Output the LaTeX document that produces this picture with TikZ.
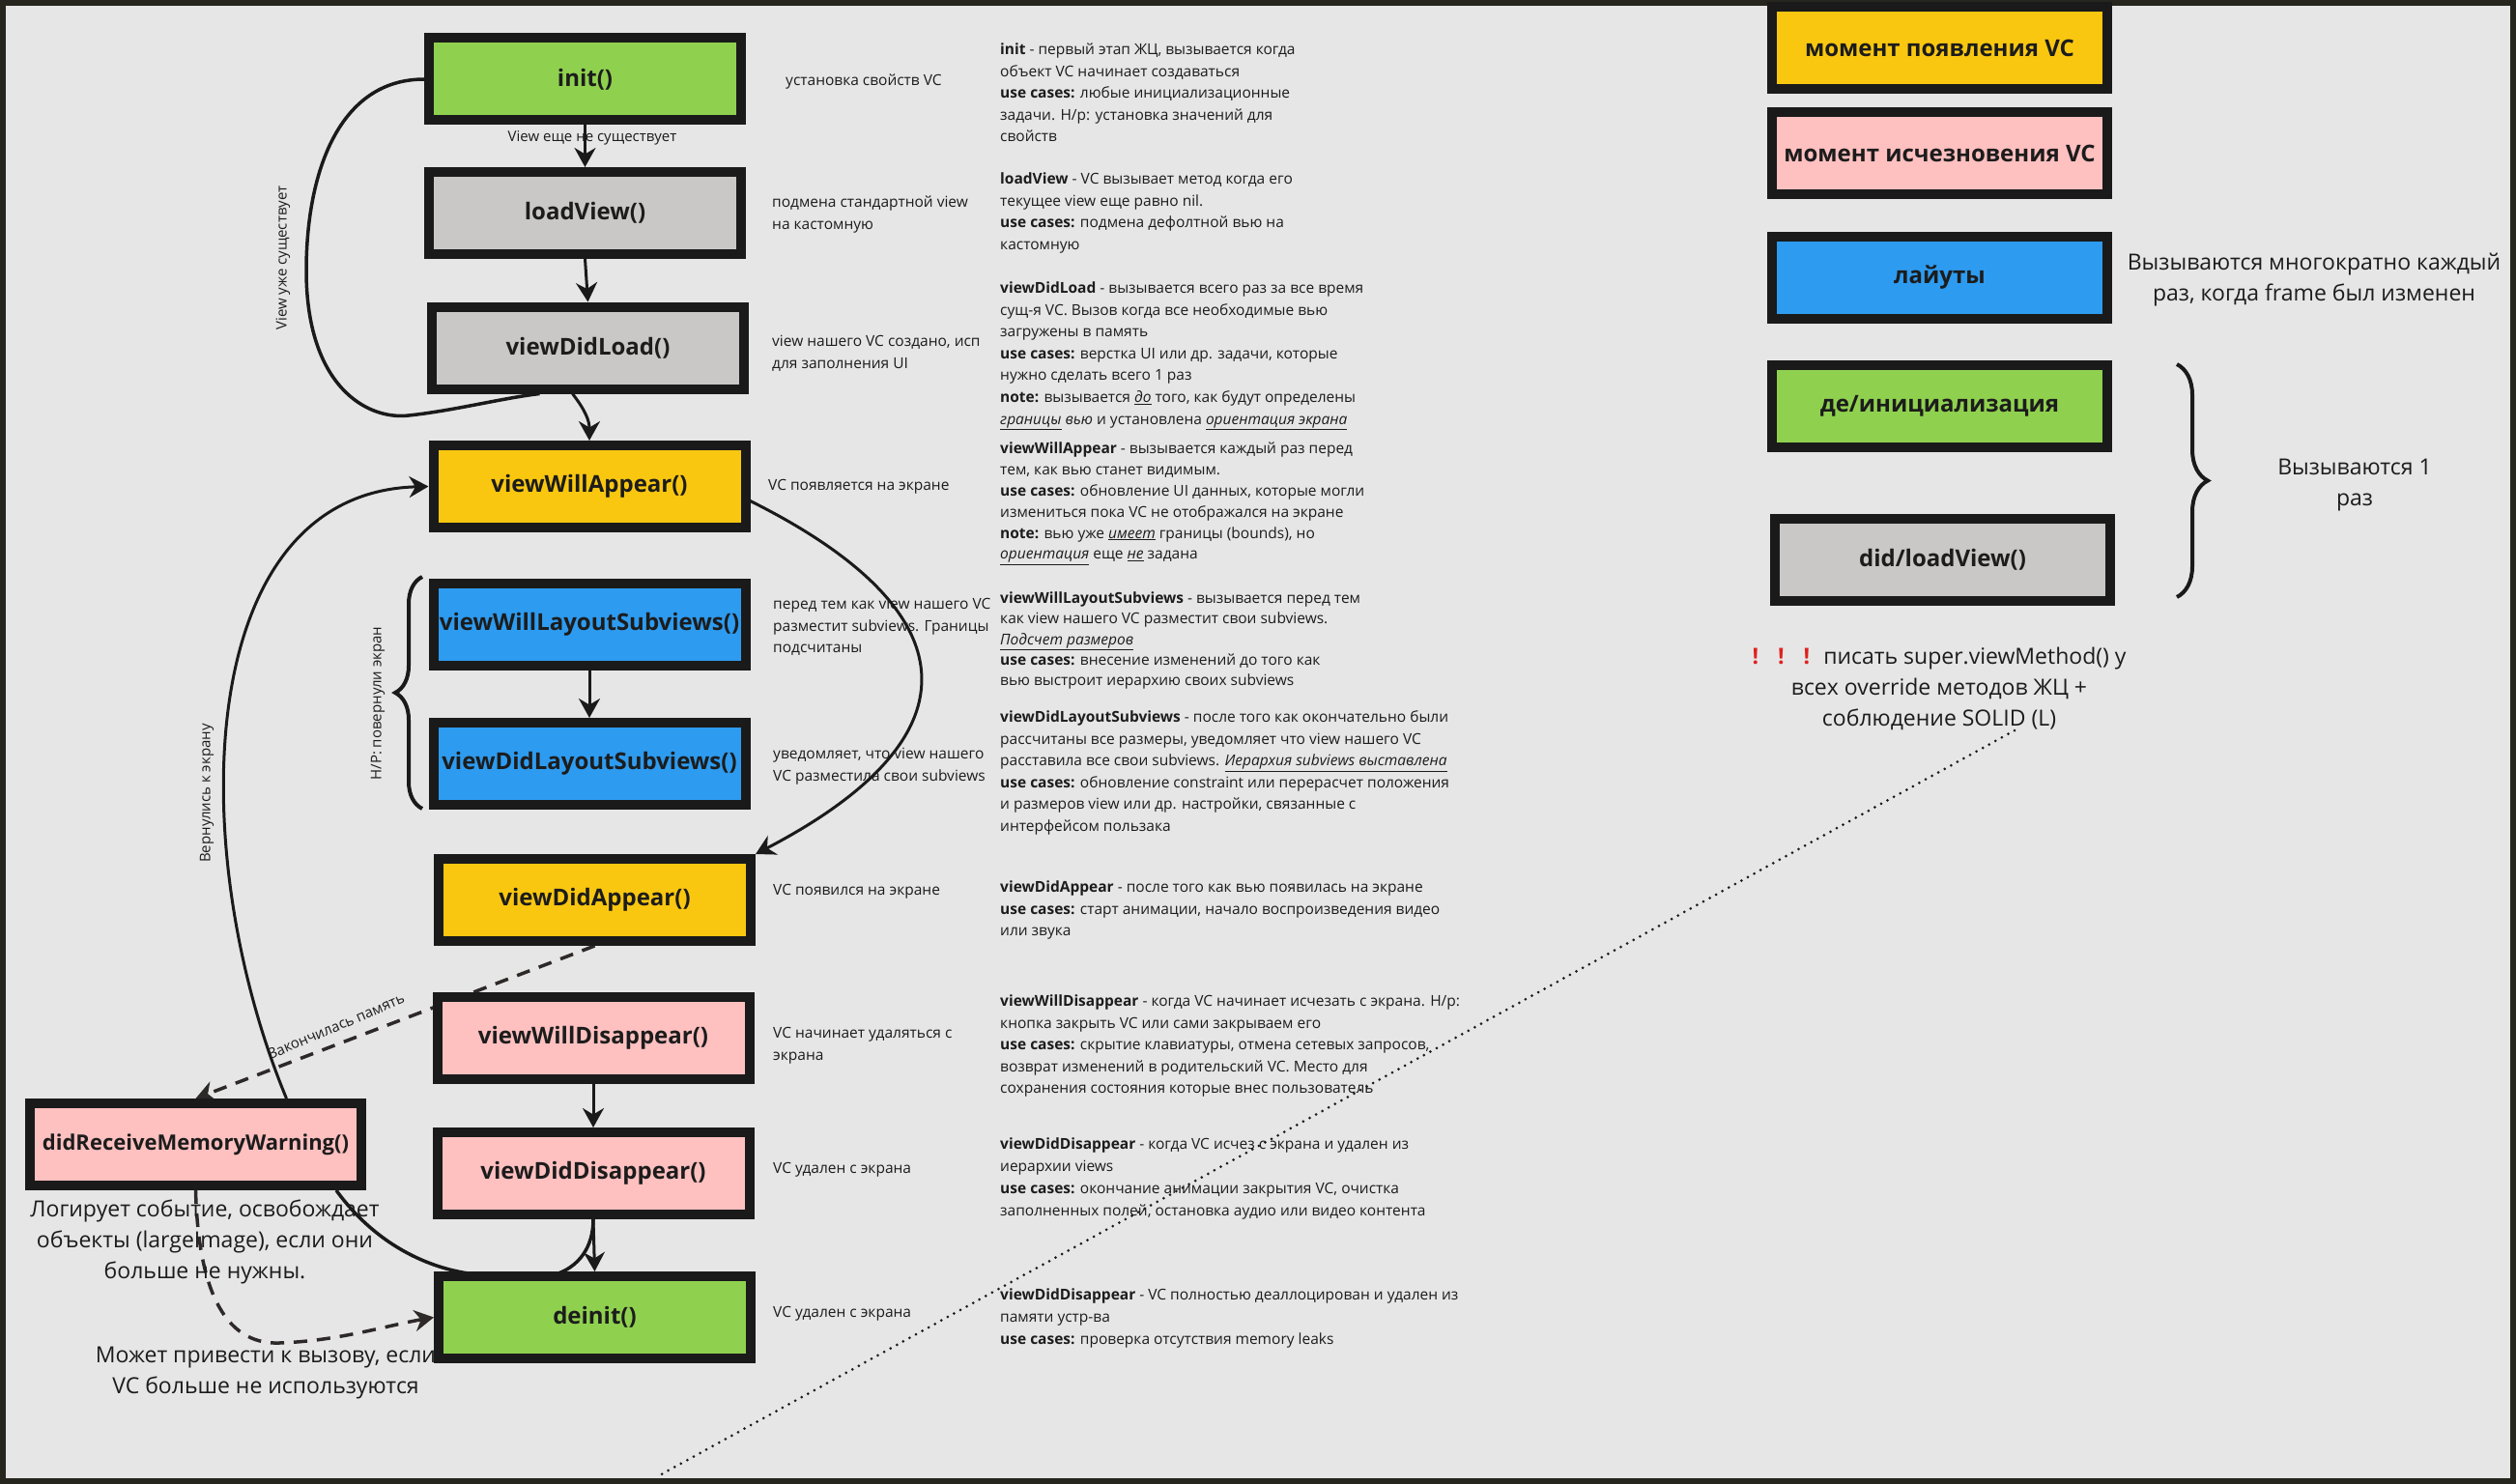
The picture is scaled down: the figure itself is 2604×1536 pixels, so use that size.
\documentclass[tikz,border=0pt]{standalone}
\usepackage{fontspec}
\setmainfont{Open Sans}
\usetikzlibrary{arrows.meta,decorations.pathreplacing}
\definecolor{bgc}{HTML}{E6E6E6}
\definecolor{framec}{HTML}{26261F}
\definecolor{boxc}{HTML}{1A1A1A}
\definecolor{txt}{HTML}{1C1C1C}
\definecolor{linec}{HTML}{1A1A1A}
\definecolor{dashc}{HTML}{2E2929}
\definecolor{cgreen}{HTML}{8FD14F}
\definecolor{cgray}{HTML}{C9C8C6}
\definecolor{cyellow}{HTML}{FAC710}
\definecolor{cpink}{HTML}{FFC0C0}
\definecolor{cblue}{HTML}{2D9BF0}
\definecolor{cred}{HTML}{E0201F}
\newcommand{\ulit}[1]{\underline{\textit{#1}}}
\pgfdeclarelayer{bglayer}
\pgfdeclarelayer{edgelayer}
\pgfsetlayers{bglayer,edgelayer,main}
\tikzset{
  box/.style={draw=boxc, line width=10pt, minimum width=323pt, minimum height=85pt, inner sep=0pt,
    font=\fontsize{24}{28}\selectfont\bfseries, text=txt},
  desc/.style={anchor=north west, align=left, inner sep=0pt, font=\fontsize{15.5}{22.6}\selectfont, text=txt},
  big/.style={align=center, inner sep=0pt, font=\fontsize{23}{32}\selectfont, text=txt},
  lbl/.style={inner sep=0pt, font=\fontsize{15}{18}\selectfont, text=txt},
  conn/.style={draw=linec, line width=3pt, -{Stealth[length=20pt,width=22pt]}},
  curveline/.style={draw=linec, line width=3.5pt},
  dconn/.style={draw=dashc, line width=3.5pt, dash pattern=on 14pt off 10pt, -{Stealth[length=20pt,width=22pt]}},
  bracedeco/.style={draw=linec, line width=4pt, decorate},
  dotline/.style={draw=linec, line width=3pt, line cap=round, dash pattern=on 0pt off 7.5pt}
}
\begin{document}
\begin{tikzpicture}[x=1pt,y=-1pt]
\useasboundingbox (0,0) rectangle (2604,1536);
\begin{pgfonlayer}{bglayer}
  \fill[bgc] (0,0) rectangle (2604,1536);
  \draw[framec, line width=6pt] (3,3) rectangle (2601,1533);
\end{pgfonlayer}

% ---------- free texts (drawn before boxes) ----------
\node[big] (tLog) at (212,1285) {Логирует событие, освобождает\\объекты (largeImage), если они\\больше не нужны.};
\node[big] (tMay) at (275,1421) {Может привести к вызову, если\\VC больше не используются};

% ---------- lifecycle boxes ----------
\node[box, fill=cgreen]  (init)       at (605.5,82)    {init()};
\node[box, fill=cgray]   (loadView)   at (605.5,220.5) {loadView()};
\node[box, fill=cgray]   (didLoad)    at (608.5,360)   {viewDidLoad()};
\node[box, fill=cyellow] (willAppear) at (610,503.5)   {viewWillAppear()};
\node[box, fill=cblue]   (willLayout) at (610,646.5)   {viewWillLayoutSubviews()};
\node[box, fill=cblue]   (didLayout)  at (610,790.5)   {viewDidLayoutSubviews()};
\node[box, fill=cyellow] (didAppear)  at (615.5,931.5) {viewDidAppear()};
\node[box, fill=cpink]   (willDis)    at (614,1074.5)  {viewWillDisappear()};
\node[box, fill=cpink]   (didDis)     at (614,1214.5)  {viewDidDisappear()};
\node[box, fill=cgreen]  (deinit)     at (615.5,1363.5){deinit()};
\node[box, fill=cpink, minimum width=343pt, font=\fontsize{22}{26}\selectfont\bfseries] (memw) at (202.5,1184.5) {didReceiveMemoryWarning()};

% ---------- legend ----------
\node[box, fill=cyellow, minimum width=347pt] (lgAppear) at (2007.5,50)    {момент появления VC};
\node[box, fill=cpink,   minimum width=347pt] (lgDis)    at (2007.5,158.5) {момент исчезновения VC};
\node[box, fill=cblue,   minimum width=347pt] (lgLayout) at (2007.5,287.5) {лайуты};
\node[box, fill=cgreen,  minimum width=347pt] (lgInit)   at (2007.5,420.5) {де/инициализация};
\node[box, fill=cgray,   minimum width=347pt] (lgLoad)   at (2010.5,579.5) {did/loadView()};

\node[big] (tMany) at (2395,289.5) {Вызываются многократно каждый\\раз, когда frame был изменен};
\node[big] (tOnce) at (2437,502) {Вызываются 1\\раз};
\node[big] (tNote) at (2007,713) {{\color{cred}\bfseries !\hspace{20pt}!\hspace{20pt}!}\hspace{14pt}писать super.viewMethod() у\\всех override методов ЖЦ +\\соблюдение SOLID (L)};
\coordinate (dotEnd) at (679,1529);

% ---------- side labels ----------
\node[desc] (sInit)       at (813,72.4)   {\strut установка свойств VC};
\node[desc] (sLoad)       at (799,198.4)  {\strut подмена стандартной view\\на кастомную};
\node[desc] (sDidLoad)    at (799,342.4)  {\strut view нашего VC создано, исп\\для заполнения UI};
\node[desc] (sWillAppear) at (795,491.4)  {\strut VC появляется на экране};
\node[desc] (sWillLayout) at (800,614.4)  {\strut перед тем как view нашего VC\\разместит subviews. Границы\\подсчитаны};
\node[desc] (sDidLayout)  at (800,769.4)  {\strut уведомляет, что view нашего\\VC разместила свои subviews};
\node[desc] (sDidAppear)  at (800,910.4)  {\strut VC появился на экране};
\node[desc] (sWillDis)    at (800,1058.4) {\strut VC начинает удаляться с\\экрана};
\node[desc] (sDidDis)     at (800,1198.4) {\strut VC удален с экрана};
\node[desc] (sDeinit)     at (800,1347.4) {\strut VC удален с экрана};

% ---------- descriptions ----------
\node[desc] (dInit) at (1035,40.4) {\strut\textbf{init} - первый этап ЖЦ, вызывается когда\\объект VC начинает создаваться\\\textbf{use cases:} любые инициализационные\\задачи. Н/р: установка значений для\\свойств};
\node[desc] (dLoad) at (1035,174.4) {\strut\textbf{loadView} - VC вызывает метод когда его\\текущее view еще равно nil.\\\textbf{use cases:} подмена дефолтной вью на\\кастомную};
\node[desc] (dDidLoad) at (1035,287.4) {\strut\textbf{viewDidLoad} - вызывается всего раз за все время\\сущ-я VC. Вызов когда все необходимые вью\\загружены в память\\\textbf{use cases:} верстка UI или др. задачи, которые\\нужно сделать всего 1 раз\\\textbf{note:} вызывается \ulit{до} того, как будут определены\\\ulit{границы} \textit{вью} и установлена \ulit{ориентация экрана}};
\node[desc, font=\fontsize{15.5}{21.8}\selectfont] (dWillAppear) at (1035,454.4) {\strut\textbf{viewWillAppear} - вызывается каждый раз перед\\тем, как вью станет видимым.\\\textbf{use cases:} обновление UI данных, которые могли\\измениться пока VC не отображался на экране\\\textbf{note:} вью уже \ulit{имеет} границы (bounds), но\\\ulit{ориентация} еще \ulit{не} задана};
\node[desc, font=\fontsize{15.5}{21.3}\selectfont] (dWillLayout) at (1035,609.4) {\strut\textbf{viewWillLayoutSubviews} - вызывается перед тем\\как view нашего VC разместит свои subviews.\\\ulit{Подсчет размеров}\\\textbf{use cases:} внесение изменений до того как\\вью выстроит иерархию своих subviews};
\node[desc] (dDidLayout) at (1035,731.4) {\strut\textbf{viewDidLayoutSubviews} - после того как окончательно были\\рассчитаны все размеры, уведомляет что view нашего VC\\расставила все свои subviews. \ulit{Иерархия subviews выставлена}\\\textbf{use cases:} обновление constraint или перерасчет положения\\и размеров view или др. настройки, связанные с\\интерфейсом пользака};
\node[desc] (dDidAppear) at (1035,907.4) {\strut\textbf{viewDidAppear} - после того как вью появилась на экране\\\textbf{use cases:} старт анимации, начало воспроизведения видео\\или звука};
\node[desc] (dWillDis) at (1035,1025.4) {\strut\textbf{viewWillDisappear} - когда VC начинает исчезать с экрана. Н/р:\\кнопка закрыть VC или сами закрываем его\\\textbf{use cases:} скрытие клавиатуры, отмена сетевых запросов,\\возврат изменений в родительский VC. Место для\\сохранения состояния которые внес пользователь};
\node[desc, font=\fontsize{15.5}{23}\selectfont] (dDidDis) at (1035,1173.4) {\strut\textbf{viewDidDisappear} - когда VC исчез с экрана и удален из\\иерархии views\\\textbf{use cases:} окончание анимации закрытия VC, очистка\\заполненных полей, остановка аудио или видео контента};
\node[desc, font=\fontsize{15.5}{23}\selectfont] (dDeinit) at (1035,1329.4) {\strut\textbf{viewDidDisappear} - VC полностью деаллоцирован и удален из\\памяти устр-ва\\\textbf{use cases:} проверка отсутствия memory leaks};

% ---------- connector labels ----------
\node[lbl] (lNotExist) at (613,143) {View еще не существует};
\node[lbl, rotate=90] (lExists) at (293,267) {View уже существует};
\node[lbl, rotate=90] (lBack) at (214,821) {Вернулись к экрану};
\node[lbl, rotate=90] (lRot) at (391,728) {Н/Р: повернули экран};
\node[lbl, rotate=23] (lMem) at (348,1062) {Закончилась память};

% ---------- connectors ----------
\begin{pgfonlayer}{edgelayer}
  \draw[conn] (init.south) -- (loadView.north);
  \draw[conn] (loadView.south) -- (didLoad.north);
  \draw[conn] ([xshift=-16pt]didLoad.south) .. controls +(14,18) and +(0,-20) .. (willAppear.north);
  \draw[curveline] (init.west) .. controls (350,82) and (317,180) .. (317,280)
     .. controls (317,400) and (380,435) .. (423,430)
     .. controls (470,425) and (520,412) .. ([xshift=-50pt]didLoad.south);
  \draw[conn] ([yshift=-15pt]willAppear.east) .. controls (1000,630) and (1020,760) .. (didAppear.north east);
  \draw[conn] (willLayout.south) -- (didLayout.north);
  \draw[conn] (willDis.south) -- (didDis.north);
  \draw[conn] (didDis.south) -- (deinit.north);
  \draw[curveline] ([xshift=-31pt]memw.south east) .. controls (390,1290) and (450,1318) .. (506,1320)
     -- (572,1320) .. controls (600,1312) and (614,1290) .. (didDis.south);
  \draw[dconn] (didAppear.south) -- (memw.north);
  \draw[dconn] (memw.south) .. controls (205,1330) and (230,1392) .. (289,1390)
     .. controls (350,1388) and (400,1372) .. (deinit.west);
  \draw[conn] ([xshift=94pt]memw.north) .. controls (190,880) and (200,510) .. (willAppear.west);
  \draw[bracedeco, decoration={brace, amplitude=28pt}] (437,837) -- (437,597);
  \draw[bracedeco, decoration={brace, amplitude=32pt}] (2253,377) -- (2253,618);
  \draw[dotline] ([xshift=78pt]tNote.south) -- (dotEnd);
\end{pgfonlayer}
\end{tikzpicture}
\end{document}
